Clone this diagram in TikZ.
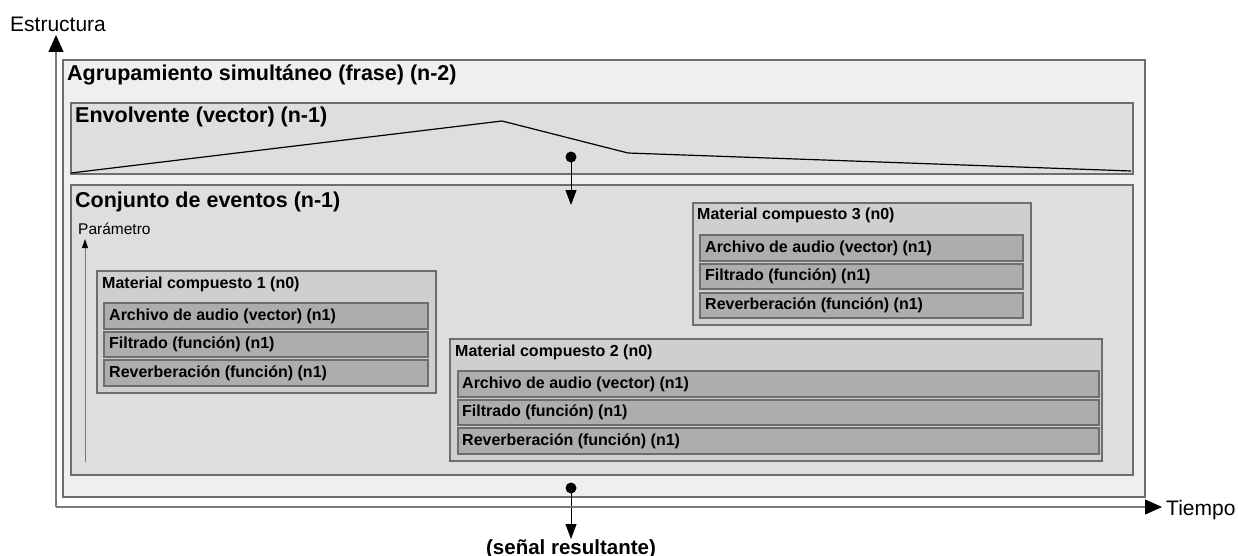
\documentclass[tikz,border=0pt]{standalone}
\usepackage{fontspec}
\setmainfont{Liberation Sans}
\usetikzlibrary{arrows.meta}

\definecolor{fillouter}{HTML}{EFEFEF}
\definecolor{fillpanel}{HTML}{DEDEDE}
\definecolor{fillmat}{HTML}{CFCFCF}
\definecolor{fillrow}{HTML}{ADADAD}
\definecolor{edge}{HTML}{6E6E6E}
\definecolor{axisline}{HTML}{7A7A7A}

% rectangle from (x1,y1) to (x2,y2), y measured downwards
\newcommand{\panelbox}[6]{%
  \node[panel,#6,minimum width={(#4-#2)*1pt},minimum height={(#5-#3)*1pt}] (#1) at (#2,#3) {};}

\tikzset{
  panel/.style={draw=edge,line width=1.1pt,anchor=north west,inner sep=0pt,outer sep=0pt},
  bigtitle/.style={anchor=west,inner sep=0pt,font=\fontsize{21.5}{24}\selectfont\bfseries},
  mattitle/.style={anchor=west,inner sep=0pt,font=\fontsize{16}{19}\selectfont\bfseries},
  rowtext/.style={anchor=west,inner sep=0pt,font=\fontsize{16}{19}\selectfont\bfseries},
  axislabel/.style={anchor=west,inner sep=0pt,font=\fontsize{21}{24}\selectfont},
  axisarrow/.style={draw=axisline,line width=1.1pt,-{Triangle[width=15pt,length=17pt,black]}},
  flowarrow/.style={draw=black,line width=1pt,-{Triangle[width=11pt,length=15pt,black]}},
  dot/.style={circle,fill=black,inner sep=0pt,minimum width=10pt,minimum height=11pt},
}

\begin{document}
\begin{tikzpicture}[x=1pt,y=-1pt]
\useasboundingbox[fill=white] (0,0) rectangle (1238,556);

% axes
\coordinate (origin) at (56,507);
\coordinate (ytip) at (56,35);
\coordinate (xtip) at (1162,507);
\node[axislabel] (estr) at (10,24.5) {Estructura};
\node[axislabel] (tiempo) at (1166,510) {Tiempo};

% outer grouping
\panelbox{frase}{63}{60}{1145}{497}{fill=fillouter}
\node[bigtitle] (tfrase) at (67,75) {Agrupamiento simultáneo (frase) (n-2)};

% envelope
\panelbox{env}{71}{103}{1133}{174}{fill=fillpanel}
\node[bigtitle] (tenv) at (75,117) {Envolvente (vector) (n-1)};
\coordinate (e1) at (71,173);
\coordinate (e2) at (502,121);
\coordinate (e3) at (628,153);
\coordinate (e4) at (1131,171);
\draw[black,line width=1.2pt] (e1) -- (e2) -- (e3) -- (e4);

% set of events
\panelbox{conj}{71}{185}{1133}{475}{fill=fillpanel}
\node[bigtitle] (tconj) at (75,202) {Conjunto de eventos (n-1)};
\node[anchor=west,inner sep=0pt,font=\fontsize{15.5}{18}\selectfont] (param) at (78,229) {Parámetro};
\coordinate (pbase) at (85,462);
\coordinate (ptip) at (85,239);
\draw[draw=axisline,line width=1pt,-{Triangle[width=6pt,length=9pt,black]}] (pbase) -- (ptip);

% composite material 1
\panelbox{mat1}{97}{271}{436}{393}{fill=fillmat}
\node[mattitle] (tmat1) at (102,284) {Material compuesto 1 (n0)};
\panelbox{m1a}{104}{303}{428}{329}{fill=fillrow}
\panelbox{m1b}{104}{332}{428}{357}{fill=fillrow}
\panelbox{m1c}{104}{360}{428}{386}{fill=fillrow}
\node[rowtext] (m1at) at (109,316) {Archivo de audio (vector) (n1)};
\node[rowtext] (m1bt) at (109,344.5) {Filtrado (función) (n1)};
\node[rowtext] (m1ct) at (109,373) {Reverberación (función) (n1)};

% composite material 3
\panelbox{mat3}{693}{203}{1031}{325}{fill=fillmat}
\node[mattitle] (tmat3) at (697,215) {Material compuesto 3 (n0)};
\panelbox{m3a}{700}{235}{1023}{261}{fill=fillrow}
\panelbox{m3b}{700}{264}{1023}{289}{fill=fillrow}
\panelbox{m3c}{700}{293}{1023}{318}{fill=fillrow}
\node[rowtext] (m3at) at (705,248) {Archivo de audio (vector) (n1)};
\node[rowtext] (m3bt) at (705,276.5) {Filtrado (función) (n1)};
\node[rowtext] (m3ct) at (705,305.5) {Reverberación (función) (n1)};

% composite material 2
\panelbox{mat2}{450}{339}{1102}{461}{fill=fillmat}
\node[mattitle] (tmat2) at (455,352) {Material compuesto 2 (n0)};
\panelbox{m2a}{458}{371}{1099}{397}{fill=fillrow}
\panelbox{m2b}{458}{400}{1099}{425}{fill=fillrow}
\panelbox{m2c}{458}{428}{1099}{454}{fill=fillrow}
\node[rowtext] (m2at) at (462,384) {Archivo de audio (vector) (n1)};
\node[rowtext] (m2bt) at (462,412.5) {Filtrado (función) (n1)};
\node[rowtext] (m2ct) at (462,441) {Reverberación (función) (n1)};

% envelope applied to the events
\node[dot] (d1) at (571,157) {};
\coordinate (t1) at (571,205);
\draw[flowarrow] (d1.center) -- (t1);

% resulting signal
\node[dot] (d2) at (571,488) {};
\node[anchor=north,inner sep=0pt,font=\fontsize{20.5}{23}\selectfont\bfseries] (res) at (571,539) {(señal resultante)};
\draw[flowarrow] (d2.center) -- (res.north);

% axes drawn last so they sit on top
\draw[axisarrow] (origin) -- (ytip);
\draw[axisarrow] (origin) -- (xtip);
\end{tikzpicture}
\end{document}
